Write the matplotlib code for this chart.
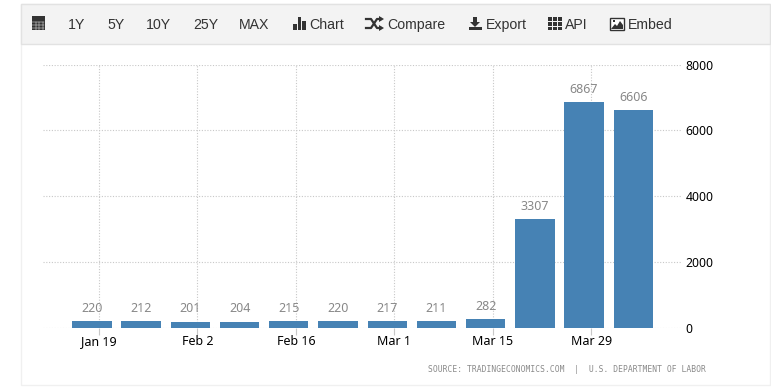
import datetime as dt
import matplotlib
matplotlib.use("Agg")
from matplotlib import pyplot as plt
from matplotlib.patches import Rectangle, Polygon
import matplotlib.dates as mdates

weeks = ["2020-01-18", "2020-01-25", "2020-02-01", "2020-02-08", "2020-02-15", "2020-02-22",
         "2020-02-29", "2020-03-07", "2020-03-14", "2020-03-21", "2020-03-28", "2020-04-04"]
claims = [220, 212, 201, 204, 215, 220, 217, 211, 282, 3307, 6867, 6606]
tick_dates = ["2020-01-19", "2020-02-02", "2020-02-16", "2020-03-01", "2020-03-15", "2020-03-29"]
tick_labels = ["Jan 19", "Feb 2", "Feb 16", "Mar 1", "Mar 15", "Mar 29"]
y_ticks = [0, 2000, 4000, 6000, 8000]
menu_labels = ["1Y", "5Y", "10Y", "25Y", "MAX", "Chart", "Compare", "Export", "API", "Embed"]
menu_x = [68, 107, 146, 193, 239, 309.5, 387.5, 486, 565, 628]

W, H = 771, 391
GRID = "#c8c8c8"
DARK = "#333333"
BLUE = "#4682b4"


def to_num(s):
    return mdates.date2num(dt.datetime.strptime(s, "%Y-%m-%d"))


fig = plt.figure(figsize=(W / 100, H / 100), dpi=100)

# page layer in pixel coordinates
bg = fig.add_axes([0, 0, 1, 1], zorder=0)
bg.set_xlim(0, W)
bg.set_ylim(H, 0)
bg.axis("off")
bg.add_patch(Rectangle((20.5, 3.5), 749, 381.5, fc="white", ec="#f0f0f0", lw=1))
bg.add_patch(Rectangle((21, 3.5), 748.5, 40.5, fc="#f3f3f3", ec="#e2e2e2", lw=1))

# toolbar icons
bg.add_patch(Rectangle((31.5, 16), 13, 14, fc=DARK, ec="none"))
for gx in (35.5, 39, 42.5):
    bg.plot([gx, gx], [22, 30], color="#f3f3f3", lw=0.35)
for gy in (22, 25, 28):
    bg.plot([32, 44], [gy, gy], color="#f3f3f3", lw=0.35)
for bx, top in zip((293, 297.5, 302), (24, 17, 21)):
    bg.add_patch(Rectangle((bx, top), 3.5, 30 - top, fc=DARK, ec="none"))
bg.plot([366, 371, 377, 381], [19, 19, 28, 28], color=DARK, lw=1.6)
bg.plot([366, 371, 377, 381], [28, 28, 19, 19], color=DARK, lw=1.6)
bg.add_patch(Polygon([[379, 16], [384, 19], [379, 22]], fc=DARK, ec="none"))
bg.add_patch(Polygon([[379, 25], [384, 28], [379, 31]], fc=DARK, ec="none"))
bg.add_patch(Polygon([[473, 17], [477, 17], [477, 22], [480, 22], [475, 27], [470, 22], [473, 22]], fc=DARK, ec="none"))
bg.add_patch(Rectangle((468.5, 27), 13, 3, fc=DARK, ec="none"))
for ix in (548, 553, 558):
    for iy in (17, 22, 26.5):
        bg.add_patch(Rectangle((ix, iy), 3.6, 3.6, fc=DARK, ec="none"))
bg.add_patch(Rectangle((610, 17.5), 13.5, 12, fc="white", ec=DARK, lw=1))
bg.add_patch(Polygon([[611, 29], [615, 24], [617, 26], [620, 21], [623, 25], [623, 29]], fc=DARK, ec="none"))
bg.add_patch(Rectangle((612.5, 19.5), 2.5, 2.5, fc=DARK, ec="none"))

for lab, x in zip(menu_labels, menu_x):
    bg.text(x, 25, lab, ha="left", va="center", fontsize=10.2,
            family="Liberation Sans", color=DARK)

bg.text(706, 370, "SOURCE: TRADINGECONOMICS.COM  |  U.S. DEPARTMENT OF LABOR",
        ha="right", va="center", fontsize=5.78, family="DejaVu Sans Mono", color="#8a8a8a")

# chart
left, right, top, bottom = 43, 682, 64.5, 328.3
ax = fig.add_axes([left / W, 1 - bottom / H, (right - left) / W, (bottom - top) / H], zorder=1)
ax.patch.set_alpha(0)
px_per_day = 7.03
t0 = to_num(tick_dates[0])
ax.set_xlim(t0 - (99 - left) / px_per_day, t0 + (right - 99) / px_per_day)
ax.set_ylim(0, 8000)
for s in ax.spines.values():
    s.set_visible(False)

x = [to_num(w) for w in weeks]
bars = ax.bar(x, claims, width=5.6, color=BLUE, zorder=3)
ax.bar_label(bars, labels=[str(c) for c in claims], padding=4.5, fontsize=9,
             family="Noto Sans", color="#888888", zorder=4)

ax.grid(True, color=GRID, linestyle=(0, (1, 1.5)), linewidth=0.8, zorder=0)
ax.set_axisbelow(True)
ax.set_xticks([to_num(d) for d in tick_dates])
ax.set_xticklabels(tick_labels, fontsize=9, family="Noto Sans", color="black")
ax.yaxis.tick_right()
ax.set_yticks(y_ticks)
ax.set_yticklabels([str(v) for v in y_ticks], fontsize=8.8, family="Noto Sans", color="black")
ax.tick_params(axis="x", length=5, width=0.8, color=GRID, pad=-0.5)
ax.tick_params(axis="y", length=0, pad=2.5)

fig.savefig("out.png", dpi=100)
